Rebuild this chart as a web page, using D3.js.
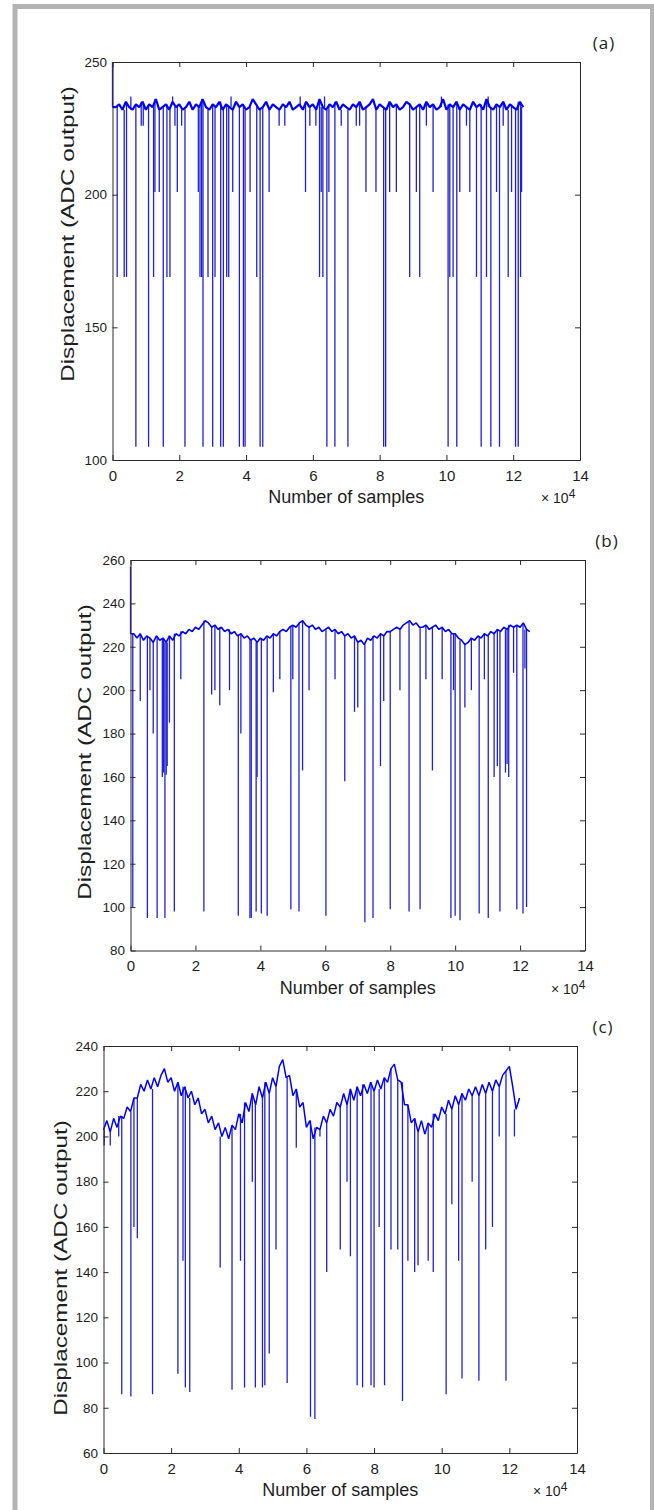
<!DOCTYPE html>
<html>
<head>
<meta charset="utf-8">
<script src="https://cdnjs.cloudflare.com/ajax/libs/d3/7.8.5/d3.min.js"></script>
<style>
  body { margin: 0; background: #fff; }
  svg { display: block; }
  text { font-family: "Liberation Sans", Arial, sans-serif; fill: #1e1e1e; }
</style>
</head>
<body>
<div id="chart"></div>
<script>
// sample step of the base arrays, in units of 10^4 samples
var step = 0.1;
var xTicks = [0, 2, 4, 6, 8, 10, 12, 14];

// (a) base level every 1000 samples
var baseA = [233,233,234,232,235,233,232,234,233,235,
  232,234,233,236,232,233,234,232,235,233,
  234,232,233,235,232,234,233,236,233,232,
  234,233,235,232,234,233,232,235,233,234,
  232,233,236,234,232,233,235,232,234,233,
  232,234,233,235,232,233,234,232,235,233,
  234,232,236,233,232,234,233,235,232,234,
  233,232,234,233,235,232,233,234,236,232,
  234,233,232,235,233,234,232,233,235,234,
  232,233,234,232,235,233,234,232,233,236,
  232,234,233,235,232,234,233,232,235,233,
  234,232,236,233,232,234,233,235,232,234,
  233,232,235,233];
// (a) excursions off the base: [position x10^4, extreme value]
var spikesA = [
  [0.00,250],
  [0.70,105],[1.08,105],[1.52,105],[2.17,105],[2.71,105],[3.00,105],[3.24,105],[3.32,105],
  [3.80,105],[3.92,105],[3.97,105],[4.42,105],[4.50,105],[6.42,105],[6.66,105],[7.05,105],
  [8.12,105],[8.18,105],[10.05,105],[10.31,105],[11.04,105],[11.33,105],[11.59,105],[12.07,105],[12.15,105],
  [0.14,169],[0.35,169],[0.42,169],[1.23,169],[1.63,169],[1.72,169],[2.62,169],[2.67,169],
  [2.86,169],[3.07,169],[3.42,169],[3.48,169],[4.32,169],[6.20,169],[6.30,169],[8.90,169],
  [9.20,169],[10.10,169],[10.20,169],[10.90,169],[11.20,169],[11.85,169],[12.22,169],
  [1.27,201],[1.40,201],[1.94,201],[2.57,201],[3.60,201],[4.12,201],[4.69,201],[5.78,201],
  [6.25,201],[6.48,201],[7.59,201],[7.89,201],[8.30,201],[8.50,201],[9.10,201],[9.60,201],
  [10.40,201],[10.70,201],[11.50,201],[11.95,201],[12.25,201],
  [0.86,226],[0.92,226],[1.87,226],[2.07,226],[4.99,226],[5.16,226],[5.91,226],[6.09,226],
  [6.85,226],[7.30,226],[7.40,226],[9.40,226],[10.60,226],[11.70,226],
  [0.55,237],[1.80,237],[3.55,237],[5.62,237],[6.35,237],[9.85,237],[11.25,237]
];

// (b) base level every 1000 samples
var baseB = [226,226,224,226,223,225,224,222,225,223,
  224,222,225,223,226,225,227,226,228,227,
  229,228,230,232,231,229,230,228,229,227,
  228,226,227,225,226,224,225,223,224,222,
  224,223,225,224,226,225,227,228,227,229,
  230,229,231,232,230,229,230,228,229,227,
  228,229,227,228,226,227,225,226,224,225,
  222,223,221,224,223,225,224,226,225,227,
  227,228,229,228,230,231,232,230,231,229,
  229,230,228,229,230,228,229,227,228,226,
  226,224,223,221,222,224,223,225,224,226,
  225,227,226,228,227,229,228,230,229,230,
  229,231,228,227];
var spikesB = [
  [0.00,257],
  [0.07,100],[0.52,95],[0.82,95],[1.06,95],[1.35,98],[2.26,98],[3.32,96],[3.68,95],[3.72,95],
  [3.87,98],[4.03,97],[4.21,96],[4.94,99],[5.19,98],[6.02,96],[7.22,93],[7.47,95],[8.00,99],
  [8.58,98],[8.92,99],[9.87,95],[10.00,96],[10.15,94],[10.74,97],[11.02,95],[11.38,98],
  [11.90,99],[12.09,97],[12.20,100],
  [0.98,160],[1.02,162],[1.10,161],[1.13,165],[3.90,160],[5.30,163],[6.60,158],[7.70,165],
  [9.30,163],[11.20,160],[11.30,165],[11.55,162],[11.60,166],[11.65,160],
  [0.30,195],[0.60,200],[0.70,180],[1.20,185],[1.55,205],[2.50,198],[2.60,200],[2.75,193],
  [3.05,200],[3.40,180],[4.40,199],[4.60,205],[5.00,205],[5.50,200],[6.30,205],[6.90,190],
  [7.00,192],[7.80,195],[8.30,200],[9.10,205],[9.60,205],[9.95,200],[10.30,192],[10.50,200],
  [10.90,205],[11.80,208],[12.15,210]
];

// (c) base level every 1000 samples
var baseC = [203,207,202,208,204,209,208,213,211,217,
  217,223,220,225,221,226,222,227,230,224,
  226,220,224,218,222,217,220,214,217,210,
  212,206,209,203,206,200,204,199,205,203,
  210,206,215,211,219,214,222,217,224,219,
  226,222,231,234,226,227,218,221,213,215,
  204,207,199,204,203,209,206,212,209,215,
  213,219,214,221,216,222,218,223,219,224,
  220,225,221,226,224,230,232,225,224,214,
  214,206,208,202,207,201,206,204,210,207,
  213,210,216,212,218,214,219,216,221,218,
  222,218,223,219,224,220,225,222,227,229,
  231,222,212,217];
var spikesC = [
  [0.02,196],
  [0.54,86],[0.81,85],[1.45,86],[2.42,89],[2.55,87],[3.80,88],[4.17,89],[4.49,89],[4.70,89],
  [4.77,90],[5.43,91],[6.12,76],[6.25,75],[7.50,90],[7.66,89],[7.91,90],[8.00,89],[8.31,90],
  [8.84,83],[10.13,86],[10.60,93],[11.10,92],[11.90,92],
  [0.20,196],[0.45,200],[0.90,160],[1.00,155],[2.20,95],[2.35,145],[3.45,142],[4.05,145],
  [4.40,180],[4.90,104],[5.10,150],[5.70,195],[6.40,200],[6.60,140],[7.00,150],[7.20,180],
  [7.30,147],[8.15,160],[8.50,150],[8.70,150],[9.00,145],[9.20,140],[9.30,143],[9.60,145],
  [9.75,140],[10.30,170],[10.50,145],[10.90,180],[11.30,150],[11.50,160],[11.70,200],[12.15,200]
];

var yTicksA = [100, 150, 200, 250];
var yTicksB = [80, 100, 120, 140, 160, 180, 200, 220, 240, 260];
var yTicksC = [60, 80, 100, 120, 140, 160, 180, 200, 220, 240];

var width = 654;
var height = 1510;

var svg = d3.select("#chart")
  .append("svg")
  .attr("width", width)
  .attr("height", height);

// grey frame round the figure
svg.append("rect")
  .attr("x", 15)
  .attr("y", 6.5)
  .attr("width", 637.5)
  .attr("height", 1530)
  .attr("fill", "none")
  .attr("stroke", "#b4b4b4")
  .attr("stroke-width", 5);

function drawPanel(p) {
  var x = d3.scaleLinear().domain([0, 14]).range([p.left, p.right]);
  var y = d3.scaleLinear().domain(p.yDomain).range([p.bottom, p.top]);
  var g = svg.append("g");

  var pts = p.base.map(function(v, i) { return [i * step, v]; });

  g.selectAll("line.spike")
    .data(p.spikes)
    .enter().append("line")
    .attr("class", "spike")
    .attr("x1", function(d) { return x(d[0]); })
    .attr("x2", function(d) { return x(d[0]); })
    .attr("y1", function(d) { return y(p.base[Math.round(d[0] / step)]); })
    .attr("y2", function(d) { return y(d[1]); })
    .attr("stroke", "#2020d8")
    .attr("stroke-width", 1.3);

  g.append("path")
    .datum(pts)
    .attr("fill", "none")
    .attr("stroke", "#0000ff")
    .attr("stroke-width", p.bandWidth)
    .attr("stroke-linejoin", "bevel")
    .attr("d", d3.line()
      .x(function(d) { return x(d[0]); })
      .y(function(d) { return y(d[1]); }));

  // axes, matlab style box with inward ticks
  var axes = [
    [d3.axisBottom(x).tickValues(xTicks).tickPadding(10), "translate(0," + p.bottom + ")", "15px"],
    [d3.axisTop(x).tickValues(xTicks), "translate(0," + p.top + ")", null],
    [d3.axisLeft(y).tickValues(p.yTicks).tickPadding(5.5), "translate(" + p.left + ",0)", "13.5px"],
    [d3.axisRight(y).tickValues(p.yTicks), "translate(" + p.right + ",0)", null]
  ];
  axes.forEach(function(a) {
    var ax = g.append("g")
      .attr("transform", a[1])
      .call(a[0].tickSizeInner(-5).tickSizeOuter(0));
    ax.select(".domain").attr("stroke", "#2a2a2a");
    ax.selectAll(".tick line").attr("stroke", "#2a2a2a");
    if (a[2] == null) {
      ax.selectAll(".tick text").remove();
    } else {
      ax.selectAll(".tick text")
        .style("font-size", a[2])
        .attr("fill", "#1e1e1e");
    }
  });

  g.append("text")
    .attr("x", (p.left + p.right) / 2)
    .attr("y", p.bottom + 43)
    .attr("text-anchor", "middle")
    .style("font-size", "18px")
    .text("Number of samples");

  var ex = g.append("text")
    .attr("x", p.expX)
    .attr("y", p.bottom + 43)
    .style("font-size", "14px");
  ex.append("tspan").text("\u00d7 10");
  ex.append("tspan").attr("dy", -5).style("font-size", "12px").text("4");

  g.append("text")
    .attr("transform", "translate(" + p.labelX + "," + p.labelY + ") rotate(-90) scale(1.35,1)")
    .attr("text-anchor", "middle")
    .style("font-size", "18px")
    .text("Displacement (ADC output)");

  g.append("text")
    .attr("x", p.tagX)
    .attr("y", p.top - 13)
    .attr("text-anchor", "middle")
    .style("font-family", "Open Sans, sans-serif")
    .style("font-size", "17px")
    .style("letter-spacing", "1px")
    .attr("fill", "#111")
    .text(p.tag);
}

drawPanel({ left: 112.5, right: 580, top: 62, bottom: 460, yDomain: [100, 250], yTicks: yTicksA,
  base: baseA, spikes: spikesA, tag: "(a)", tagX: 604, labelX: 74, labelY: 234, expX: 541, bandWidth: 2.2 });
drawPanel({ left: 130.5, right: 585, top: 560, bottom: 950.5, yDomain: [80, 260], yTicks: yTicksB,
  base: baseB, spikes: spikesB, tag: "(b)", tagX: 607, labelX: 91, labelY: 752, expX: 551, bandWidth: 1.6 });
drawPanel({ left: 103.5, right: 577, top: 1046, bottom: 1453, yDomain: [60, 240], yTicks: yTicksC,
  base: baseC, spikes: spikesC, tag: "(c)", tagX: 603, labelX: 67, labelY: 1268, expX: 533, bandWidth: 1.5 });
</script>
</body>
</html>
